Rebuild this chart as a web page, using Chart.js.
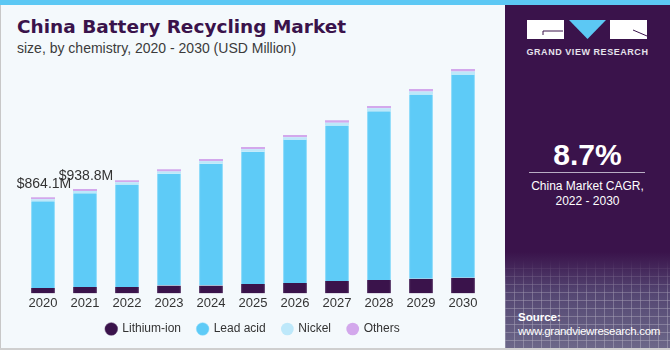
<!DOCTYPE html>
<html>
<head>
<meta charset="utf-8">
<script src="https://cdn.jsdelivr.net/npm/chart.js@4.4.1/dist/chart.umd.min.js"></script>
<style>
    body { margin: 0; width: 670px; height: 350px; overflow: hidden; background: #f4f9fc; font-family: "Liberation Sans", Arial, sans-serif; }
    #topbar { position: absolute; left: 0; top: 0; width: 670px; height: 5px; background: #5cc8f4; }
    #leftborder { position: absolute; left: 0; top: 5px; width: 1px; height: 345px; background: #c8c8c8; }
    #bottomborder { position: absolute; left: 0; top: 348px; width: 670px; height: 2px; background: #cfcfcf; }
    #title { position: absolute; left: 17px; top: 16px; font-family: "DejaVu Sans", sans-serif; font-weight: bold; font-size: 18.5px; color: #3a134b; white-space: nowrap; }
    #subtitle { position: absolute; left: 17px; top: 40px; font-size: 14px; color: #3b3b3b; white-space: nowrap; }
    #chartbox { position: absolute; left: 0; top: 0; width: 505px; height: 348px; }
    #panel { position: absolute; left: 505px; top: 5px; width: 165px; height: 343px;
        background: linear-gradient(to bottom, #3a134b 0%, #3a134b 72%, #544672 84%, #6c6889 100%); overflow: hidden; }
    #grid { position: absolute; left: 0; top: 255px; width: 165px; height: 90px; opacity: 0.45;
        background-image: repeating-linear-gradient(to right, rgba(255,255,255,0.5) 0 1px, transparent 1px 9px),
                          repeating-linear-gradient(to bottom, rgba(255,255,255,0.5) 0 1px, transparent 1px 8px);
        -webkit-mask-image: linear-gradient(to bottom, transparent, black 40%); }
    #logo { position: absolute; left: 22px; top: 15px; }
    #gvr { position: absolute; left: 0; width: 165px; top: 42px; text-align: center; font-size: 9px; font-weight: bold; letter-spacing: 0.55px; color: #e6e2ec; }
    #cagr { position: absolute; left: 0; width: 165px; top: 133px; text-align: center; font-size: 30px; font-weight: bold; color: #ffffff; }
    #line { position: absolute; left: 24px; width: 116px; top: 167px; height: 1px; background: #b9aec4; }
    #cagrtext { position: absolute; left: 0; width: 165px; top: 174px; text-align: center; font-size: 12px; line-height: 15px; color: #ffffff; }
    #source { position: absolute; left: 13px; top: 305px; font-size: 11.5px; line-height: 14px; color: #ffffff; }
    #source span { letter-spacing: -0.3px; }
</style>
</head>
<body>
<div id="topbar"></div>
<div id="leftborder"></div>
<div id="title">China Battery Recycling Market</div>
<div id="subtitle">size, by chemistry, 2020 - 2030 (USD Million)</div>
<div id="chartbox"><canvas id="myChart"></canvas></div>
<div id="panel">
    <div id="grid"></div>
    <svg id="logo" width="120" height="20">
        <rect x="0" y="0" width="37" height="19" fill="#ffffff"/>
        <polyline points="36,11 16,11 16,15" fill="none" stroke="#3a134b" stroke-width="1"/>
        <polygon points="42,0 79,0 60.5,19" fill="#5cc8f4"/>
        <rect x="83" y="0" width="37" height="19" fill="#ffffff"/>
        <line x1="106" y1="10" x2="120" y2="16" stroke="#3a134b" stroke-width="1"/>
    </svg>
    <div id="gvr">GRAND VIEW RESEARCH</div>
    <div id="cagr">8.7%</div>
    <div id="line"></div>
    <div id="cagrtext">China Market CAGR,<br>2022 - 2030</div>
    <div id="source"><b>Source:</b><br><span>www.grandviewresearch.com</span></div>
</div>
<div id="bottomborder"></div>

<script>
// data (USD Million)
const years = ['2020', '2021', '2022', '2023', '2024', '2025', '2026', '2027', '2028', '2029', '2030'];
const lithiumIon = [48, 57, 57, 72, 72, 84, 93, 111, 120, 132, 141];
const leadAcid = [780.1, 844.8, 923, 1004, 1095, 1190, 1287, 1400, 1518, 1657, 1825];
const nickel = [18, 19, 20, 21, 22, 23, 24, 25, 27, 28, 30];
const others = [18, 18, 19, 19, 20, 20, 21, 22, 22, 23, 24];
const totalLabels = ['$864.1M', '$938.8M']; // only first two years are labelled

// draws the total value above the first bars
const totalLabelPlugin = {
    id: 'totalLabels',
    afterDatasetsDraw(chart) {
        const ctx = chart.ctx
        const xScale = chart.scales.x
        const yScale = chart.scales.y
        ctx.save()
        ctx.font = '14px "Liberation Sans", Arial, sans-serif'
        ctx.fillStyle = '#333333'
        ctx.textAlign = 'center'
        ctx.textBaseline = 'middle'
        for (let i = 0; i < totalLabels.length; i++) {
            const total = lithiumIon[i] + leadAcid[i] + nickel[i] + others[i]
            ctx.fillText(totalLabels[i], xScale.getPixelForValue(i) + 1, yScale.getPixelForValue(total) - 13)
        }
        ctx.restore()
    }
}

// legend padding is kept small, so pad the label text to keep the gaps between items
function legendLabels(chart) {
    const items = Chart.defaults.plugins.legend.labels.generateLabels(chart)
    for (let i = 0; i < items.length - 1; i++) {
        items[i].text = items[i].text + '  '
    }
    return items
}

const chemData = {
    labels: years,
    datasets: [
        { label: 'Lithium-ion', data: lithiumIon, backgroundColor: '#3a134b', borderColor: '#5a3a6a', borderWidth: {left: 1, right: 1} },
        { label: 'Lead acid', data: leadAcid, backgroundColor: '#5ecbf7', borderColor: '#8edcfa', borderWidth: {left: 1, right: 1} },
        { label: 'Nickel', data: nickel, backgroundColor: '#bde8fa', borderWidth: 0 },
        { label: 'Others', data: others, backgroundColor: '#d3a8ec', borderWidth: 0 }
    ]
};

const config = {
    type: 'bar',
    data: chemData,
    plugins: [totalLabelPlugin],
    options: {
        responsive: true,
        maintainAspectRatio: false,
        animation: false,
        barPercentage: 0.57,
        categoryPercentage: 1.0,
        layout: {
            padding: { left: 22, right: 21, top: 60, bottom: 3 }
        },
        scales: {
            x: {
                stacked: true,
                grid: { display: false, drawTicks: false },
                border: { display: false },
                ticks: {
                    color: '#333333',
                    padding: 2,
                    font: { size: 13, family: '"Liberation Sans", Arial, sans-serif' }
                }
            },
            y: {
                stacked: true,
                display: false,
                min: 0,
                max: 2100
            }
        },
        plugins: {
            legend: {
                position: 'bottom',
                labels: {
                    color: '#333333',
                    usePointStyle: true,
                    pointStyle: 'circle',
                    boxWidth: 10,
                    boxHeight: 9,
                    padding: 10,
                    generateLabels: legendLabels,
                    font: { size: 12, family: '"Liberation Sans", Arial, sans-serif' }
                }
            },
            tooltip: { enabled: false }
        }
    }
};

const ctx = document.getElementById('myChart')
const myChart = new Chart(ctx, config);
</script>
</body>
</html>
